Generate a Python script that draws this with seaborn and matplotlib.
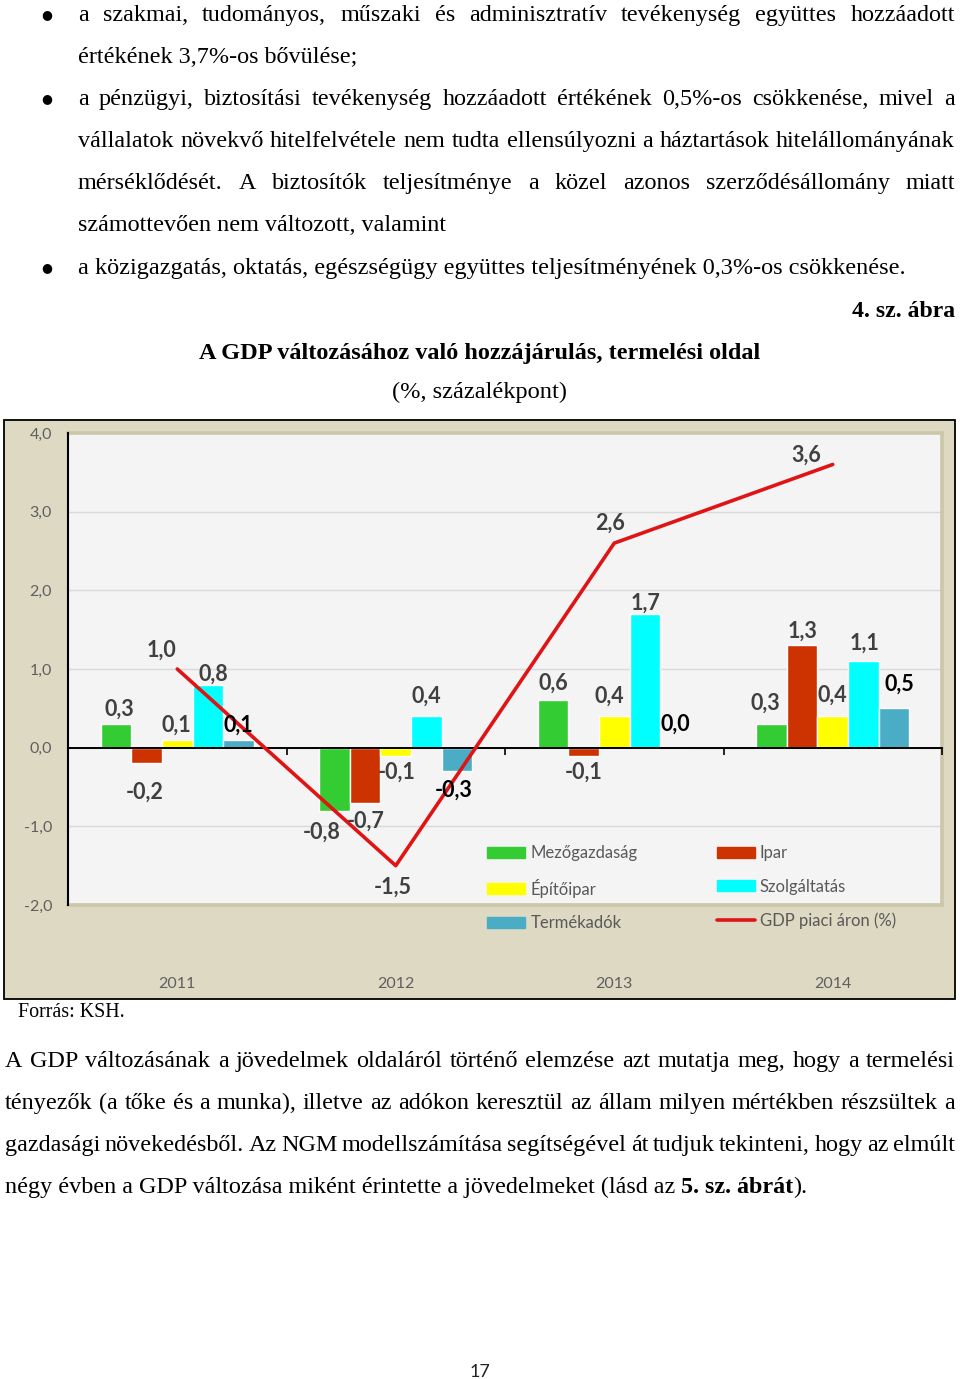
import numpy as np
import pandas as pd
import matplotlib
matplotlib.use("Agg")
import matplotlib.pyplot as plt
from matplotlib.patches import Rectangle, Patch
from matplotlib.lines import Line2D
import seaborn as sns

W, H = 960, 1379

# ---------------- data ----------------
years = ["2011", "2012", "2013", "2014"]
sectors = ["Mezőgazdaság", "Ipar", "Építőipar", "Szolgáltatás", "Termékadók"]
mezogazdasag = [0.3, -0.8, 0.6, 0.3]
ipar = [-0.2, -0.7, -0.1, 1.3]
epitoipar = [0.1, -0.1, 0.4, 0.4]
szolgaltatas = [0.8, 0.4, 1.7, 1.1]
termekadok = [0.1, -0.3, 0.0, 0.5]
gdp = [1.0, -1.5, 2.6, 3.6]
gdp_label = "GDP piaci áron (%)"
y_ticks = [-2.0, -1.0, 0.0, 1.0, 2.0, 3.0, 4.0]

# ---------------- style ----------------
colors = ["#33CC33", "#CC3300", "#FFFF00", "#00FFFF", "#4BACC6"]
line_color = "#E01414"
SERIF = ["Liberation Serif", "DejaVu Serif"]
SANS = ["Lato", "DejaVu Sans"]

# label offsets in pixels (dx, dy downwards) relative to the bar end / line point
bar_label_offsets = [
    [(3.5, -15), (-13, 22), (0.5, -17), (-6, -21)],
    [(-2, 29), (0.5, 18), (0, 17), (0.5, -14)],
    [(-0.5, -15), (1, 17), (-4.5, -20), (0, -20.5)],
    [(6, -11), (-0.5, -19.5), (1, -11), (1.5, -17.5)],
    [(-0.5, -15), (-3, 19), (-0.5, -23), (5, -23.7)],
]
line_label_offsets = [(-16, -19), (-3, 22), (-4.5, -19.5), (-26, -9)]
label_colors = ["#404040", "#404040", "#404040", "#404040", "#000000"]

sns.set_style("white")
plt.rcParams["font.family"] = SANS

fig = plt.figure(figsize=(W / 100, H / 100), dpi=100)
renderer = fig.canvas.get_renderer()


def fx(x):
    return x / W


def fy(y):
    return 1 - y / H


def text_width(s, size, weight="normal", family=SERIF):
    t = fig.text(0, 0, s, fontsize=size, fontweight=weight, family=family)
    w = t.get_window_extent(renderer).width
    t.remove()
    return w


def fit_size(s, target, weight="normal", family=SERIF):
    return 10 * target / text_width(s, 10, weight, family)


def put(s, x, y, size, weight="normal", ha="left", family=SERIF, color="black"):
    fig.text(fx(x), fy(y), s, fontsize=size, fontweight=weight, family=family,
             ha=ha, va="baseline", color=color)


def justify(line, x0, x1, y, size, weight="normal"):
    words = line.split()
    widths = [text_width(w, size, weight) for w in words]
    gap = (x1 - x0 - sum(widths)) / (len(words) - 1)
    x = x0
    for w, wd in zip(words, widths):
        put(w, x, y, size, weight)
        x += wd + gap


def bullet(y):
    fig.text(fx(47), fy(y), "●", fontsize=9, family=["DejaVu Sans"],
             ha="center", va="center", color="black")


# ---------------- page text ----------------
fs = fit_size("értékének 3,7%-os bővülése;", 277)

bullet(15)
justify("a szakmai, tudományos, műszaki és adminisztratív tevékenység együttes hozzáadott",
        78, 955, 21, fs)
put("értékének 3,7%-os bővülése;", 78, 63, fs)
bullet(99)
justify("a pénzügyi, biztosítási tevékenység hozzáadott értékének 0,5%-os csökkenése, mivel a",
        78, 955, 105, fs)
justify("vállalatok növekvő hitelfelvétele nem tudta ellensúlyozni a háztartások hitelállományának",
        78, 955, 147, fs)
justify("mérséklődését. A biztosítók teljesítménye a közel azonos szerződésállomány miatt",
        78, 955, 189, fs)
put("számottevően nem változott, valamint", 78, 231, fs)
bullet(268)
l7 = "a közigazgatás, oktatás, egészségügy együttes teljesítményének 0,3%-os csökkenése."
put(l7, 78, 274, fit_size(l7, 822))

abra = "4. sz. ábra"
put(abra, 955, 317, fit_size(abra, 104, "bold"), weight="bold", ha="right")
title = "A GDP változásához való hozzájárulás, termelési oldal"
put(title, 480, 359, fit_size(title, 564, "bold"), weight="bold", ha="center")
sub = "(%, százalékpont)"
put(sub, 480, 398, fit_size(sub, 175), ha="center")

src = "Forrás: KSH."
put(src, 18, 1017, fit_size(src, 107))

justify("A GDP változásának a jövedelmek oldaláról történő elemzése azt mutatja meg, hogy a termelési",
        5, 955, 1067, fs)
justify("tényezők (a tőke és a munka), illetve az adókon keresztül az állam milyen mértékben részsültek a",
        5, 955, 1109, fs)
justify("gazdasági növekedésből. Az NGM modellszámítása segítségével át tudjuk tekinteni, hogy az elmúlt",
        5, 955, 1151, fs)
space = text_width("a a", fs) - text_width("aa", fs)
parts = [("négy évben a GDP változása miként érintette a jövedelmeket (lásd az", "normal", True),
         ("5. sz. ábrát", "bold", False), (").", "normal", False)]
x = 5
for s, wt, sp in parts:
    put(s, x, 1193, fs, weight=wt)
    x += text_width(s, fs, wt) + (space if sp else 0)

put("17", 480, 1377, 13, ha="center", family=SANS, color="#222222")

# ---------------- chart frame ----------------
fig.add_artist(Rectangle((fx(4), fy(999)), (955 - 4) / W, (999 - 420) / H,
                         transform=fig.transFigure, facecolor="#DDD9C3",
                         edgecolor="black", lw=1.3, zorder=-1))

ax = fig.add_axes([fx(68), fy(905), (942 - 68) / W, (905 - 433) / H])
ax.set_facecolor("#F4F4F4")

rows = []
for s, vals in zip(sectors, [mezogazdasag, ipar, epitoipar, szolgaltatas, termekadok]):
    for yr, v in zip(years, vals):
        rows.append({"year": yr, "sector": s, "value": v})
df = pd.DataFrame(rows)

sns.barplot(data=df, x="year", y="value", hue="sector", order=years, hue_order=sectors,
            palette=colors, width=0.7, saturation=1, errorbar=None, legend=False,
            ax=ax, zorder=3)
sns.lineplot(x=np.arange(len(years)), y=gdp, color=line_color, lw=2.6, ax=ax, zorder=6)

ax.set_xlim(-0.5, 3.5)
ax.set_ylim(-2, 4)

# data labels
for i, cont in enumerate(ax.containers):
    for j, bar in enumerate(cont):
        val = df[(df.sector == sectors[i]) & (df.year == years[j])].value.iloc[0]
        dx, dy = bar_label_offsets[i][j]
        ax.annotate(f"{val:.1f}".replace(".", ","),
                    xy=(bar.get_x() + bar.get_width() / 2, val),
                    xytext=(dx, -dy), textcoords="offset pixels",
                    ha="center", va="center", fontsize=15.5, fontweight="bold",
                    color=label_colors[i], zorder=8)
for j, v in enumerate(gdp):
    dx, dy = line_label_offsets[j]
    ax.annotate(f"{v:.1f}".replace(".", ","), xy=(j, v), xytext=(dx, -dy),
                textcoords="offset pixels", ha="center", va="center",
                fontsize=15.5, fontweight="bold", color="#404040", zorder=8)

# axes styling
ax.set_yticks(y_ticks)
ax.set_yticklabels([f"{t:.1f}".replace(".", ",") for t in y_ticks])
ax.tick_params(axis="y", length=0, pad=11.5, labelcolor="#5F5F5F", labelsize=11.5)
ax.set_xticks(range(len(years)))
ax.set_xticklabels(years)
ax.tick_params(axis="x", length=0, pad=52, labelcolor="#5F5F5F", labelsize=11.5)
ax.set_xlabel("")
ax.set_ylabel("")
ax.grid(axis="y", color="#D9D9D9", lw=1)
ax.grid(axis="x", visible=False)
ax.set_axisbelow(True)
for side in ["top", "right", "bottom"]:
    ax.spines[side].set_visible(True)
    ax.spines[side].set_color("#CCC7A8")
    ax.spines[side].set_linewidth(2.6)
ax.spines["left"].set_color("black")
ax.spines["left"].set_linewidth(1.5)
ax.spines["left"].set_zorder(7)

zero_pos = (0 - (-2)) / 6
sec = ax.secondary_xaxis(zero_pos)
sec.set_xticks([0.5, 1.5, 2.5, 3.5])
sec.set_xticklabels([])
sec.tick_params(length=5, width=1.2, direction="out", color="black")
for sp in sec.spines.values():
    sp.set_color("black")
    sp.set_linewidth(1.4)
sec.set_zorder(5)

# legend
handles = [Patch(color=colors[0], label=sectors[0]),
           Patch(color=colors[2], label=sectors[2]),
           Patch(color=colors[4], label=sectors[4]),
           Patch(color=colors[1], label=sectors[1]),
           Patch(color=colors[3], label=sectors[3]),
           Line2D([], [], color=line_color, lw=2.6, label=gdp_label)]
fig.legend(handles=handles, ncol=2, loc="upper left",
           bbox_to_anchor=(fx(487), fy(845)), frameon=False, fontsize=12,
           handlelength=2.3, handleheight=0.62, handletextpad=0.3,
           columnspacing=4.75, labelspacing=1.05, borderpad=0, borderaxespad=0,
           labelcolor="#595959")

fig.savefig("out.png", dpi=100)
